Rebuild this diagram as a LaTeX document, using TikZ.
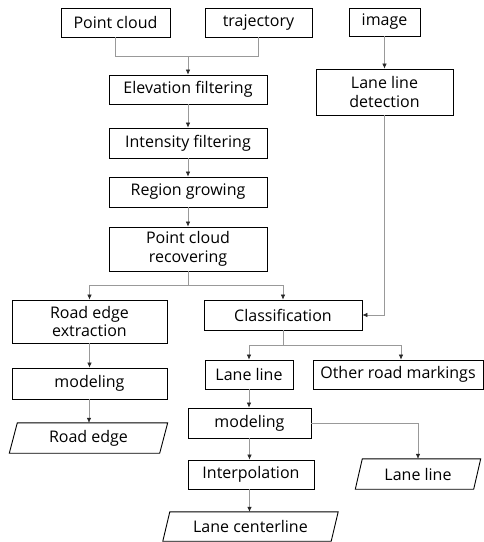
\documentclass[tikz,border=0pt]{standalone}
\usepackage{fontspec}
\setmainfont{Open Sans}
\usetikzlibrary{arrows.meta}
\begin{document}
\begin{tikzpicture}[x=1pt,y=-1pt,
  box/.style={draw=black,line width=0.9pt,inner sep=0pt,align=center,font=\fontsize{16}{18.5}\selectfont},
  para/.style={inner sep=0pt,align=center,font=\fontsize{16}{18.5}\selectfont},
  conn/.style={draw=gray!80,line width=0.6pt},
  arr/.style={conn,-{Latex[length=5pt,width=4.5pt,color=black!85]}}]
\useasboundingbox (0,0) rectangle (484,542);
% boxes
\node[box,minimum width=109pt,minimum height=29pt] (pc) at (115.5,22.5) {Point cloud};
\node[box,minimum width=107pt,minimum height=29pt] (traj) at (258.5,22.5) {trajectory};
\node[box,minimum width=71pt,minimum height=28pt] (img) at (384.5,22) {image};
\node[box,minimum width=158pt,minimum height=29pt] (elev) at (188,89.5) {Elevation filtering};
\node[box,minimum width=137pt,minimum height=46pt] (lld) at (384.5,92) {Lane line\\detection};
\node[box,minimum width=158pt,minimum height=30pt] (inten) at (188,143) {Intensity filtering};
\node[box,minimum width=158pt,minimum height=30pt] (reg) at (188,192) {Region growing};
\node[box,minimum width=158pt,minimum height=44pt] (pcr) at (188,249) {Point cloud\\recovering};
\node[box,minimum width=155pt,minimum height=43pt] (ree) at (89.5,321.5) {Road edge\\extraction};
\node[box,minimum width=158pt,minimum height=30pt] (cls) at (283,315) {Classification};
\node[box,minimum width=88pt,minimum height=29pt] (ll) at (249,374.5) {Lane line};
\node[box,minimum width=170pt,minimum height=29pt] (orm) at (398,374.5) {Other road markings};
\node[box,minimum width=155pt,minimum height=31pt] (modL) at (89.5,383.5) {modeling};
\node[box,minimum width=123pt,minimum height=30pt] (modC) at (249.5,423) {modeling};
\node[box,minimum width=126pt,minimum height=29pt] (interp) at (251,474.5) {Interpolation};
% parallelograms
\node[para,minimum width=150pt,minimum height=30pt] (re) at (88.5,438) {Road edge};
\node[para,minimum width=118pt,minimum height=30pt] (llo) at (418,474) {Lane line};
\node[para,minimum width=168pt,minimum height=29pt] (lcl) at (250.5,526.5) {Lane centerline};
\foreach \n/\s in {re/4,llo/3.5,lcl/3.5}{
  \draw[line width=0.9pt] ([xshift=\s pt]\n.north west) -- ([xshift=\s pt]\n.north east)
    -- ([xshift=-\s pt]\n.south east) -- ([xshift=-\s pt]\n.south west) -- cycle;
}
% connectors
\coordinate (j1) at (188,56);
\coordinate (j2) at (188,285);
\coordinate (j3) at (283,345);
\draw[conn] (pc.south) |- (j1);
\draw[conn] (traj.south) |- (j1);
\draw[arr] (j1) -- (elev.north);
\draw[arr] (elev.south) -- (inten.north);
\draw[arr] (inten.south) -- (reg.north);
\draw[arr] (reg.south) -- (pcr.north);
\draw[arr] (img.south) -- (lld.north);
\draw[arr] (lld.south) |- (cls.east);
\draw[conn] (pcr.south) -- (j2);
\draw[arr] (j2) -| (ree.north);
\draw[arr] (j2) -| (cls.north);
\draw[conn] (cls.south) -- (j3);
\draw[arr] (j3) -| (ll.north);
\draw[arr] (j3) -| ([xshift=3pt]orm.north);
\draw[arr] (ree.south) -- (modL.north);
\draw[arr] ([xshift=-0.5pt]modL.south) -- ([xshift=-0.5pt]modL.south |- re.north);
\draw[arr] (ll.south) -- (ll.south |- modC.north);
\draw[arr] (modC.east) -| (llo.north);
\draw[arr] (modC.south) -- (modC.south |- interp.north);
\draw[arr] (modC.south |- interp.south) -- (modC.south |- lcl.north);
\end{tikzpicture}
\end{document}
